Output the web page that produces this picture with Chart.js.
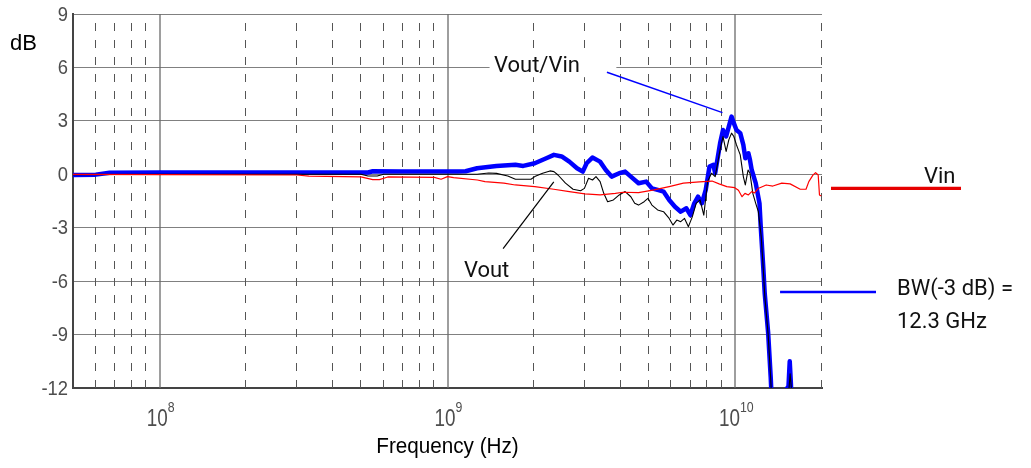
<!DOCTYPE html>
<html lang="en">
<head>
<meta charset="UTF-8">
<title>Vout/Vin frequency response</title>
<script src="https://cdn.jsdelivr.net/npm/chart.js@4.4.0/dist/chart.umd.min.js"></script>
<style>
  body { margin: 0; background: #fff; }
  #wrap { width: 1031px; height: 468px; }
</style>
</head>
<body>
<div id="wrap"><canvas id="resp" width="1031" height="468"></canvas></div>

<script>
// measured traces: frequency in GHz, level in dB
var vinGHz = [0.05, 0.1, 0.3, 0.33, 0.5, 0.55, 0.58, 0.62, 0.9, 0.95, 1.0, 1.05, 1.27, 1.35, 1.57, 1.72, 2.01, 2.34, 2.65, 3.0, 3.39, 3.83, 4.07, 4.61, 5.22, 5.89, 6.6, 7.5, 8.3, 8.78, 9.34, 9.95, 10.25, 10.55, 10.8, 11.1, 11.4, 11.65, 12.0, 12.8, 13.5, 14.5, 15.5, 16.8, 17.6, 18.0, 18.6, 19.0, 19.4, 19.6, 19.8];
var vinDb  = [0.0, -0.02, -0.04, -0.1, -0.15, -0.3, -0.3, -0.15, -0.17, -0.28, -0.13, -0.19, -0.32, -0.41, -0.5, -0.6, -0.69, -0.84, -0.97, -1.1, -1.16, -1.07, -1.01, -1.03, -0.88, -0.69, -0.5, -0.43, -0.38, -0.54, -0.69, -0.75, -0.9, -1.26, -1.07, -1.16, -0.97, -1.05, -0.8, -0.6, -0.66, -0.5, -0.54, -0.84, -0.84, -0.41, -0.05, 0.09, -0.04, -1.16, -1.2];

var voutGHz = [0.05, 0.1, 0.5, 0.53, 0.57, 0.6, 0.686, 1.267, 1.39, 1.48, 1.62, 1.722, 1.95, 2.01, 2.14, 2.27, 2.343, 2.42, 2.57, 2.73, 2.9, 2.99, 3.09, 3.19, 3.28, 3.39, 3.49, 3.6, 3.77, 3.95, 4.14, 4.335, 4.47, 4.61, 4.82, 4.97, 5.13, 5.37, 5.63, 5.89, 6.07, 6.26, 6.46, 6.66, 6.87, 7.09, 7.31, 7.54, 7.77, 8.01, 8.26, 8.51, 8.85, 9.06, 9.29, 9.49, 9.7, 9.88, 10.09, 10.4, 10.66, 10.83, 11.07, 11.24, 11.5, 11.77, 12.02, 12.3, 12.5, 12.65, 13.0, 13.27, 13.45, 15.25, 15.35, 15.5, 15.65, 15.75];
var voutDb  = [-0.02, 0.0, 0.0, -0.1, -0.1, 0.0, 0.0, 0.0, 0.07, 0.05, -0.1, -0.28, -0.28, -0.13, 0.06, 0.19, 0.15, -0.04, -0.5, -0.84, -0.92, -0.79, -0.22, -0.32, -0.13, -0.41, -1.07, -1.54, -1.44, -1.16, -0.97, -1.26, -1.63, -1.73, -1.54, -1.35, -1.73, -2.0, -2.1, -2.48, -2.85, -2.57, -2.66, -2.48, -2.94, -2.38, -1.63, -1.44, -2.29, -0.41, 0.06, -0.13, 1.37, 2.12, 1.28, 1.93, 2.31, 2.12, 1.65, 1.09, -0.13, -0.6, 0.24, 0.06, -1.07, -1.63, -2.1, -3.5, -5.3, -6.8, -9.0, -11.5, -13.5, -13.5, -12.1, -11.2, -12.0, -13.5];

var ratioGHz = [0.05, 0.06, 0.067, 0.1, 0.3, 0.53, 0.55, 0.686, 1.087, 1.156, 1.267, 1.479, 1.722, 1.833, 2.01, 2.204, 2.343, 2.492, 2.65, 2.818, 2.951, 3.043, 3.187, 3.388, 3.548, 3.716, 3.95, 4.14, 4.335, 4.61, 4.9, 5.13, 5.37, 5.63, 5.89, 6.17, 6.46, 6.76, 6.98, 7.2, 7.42, 7.65, 7.89, 8.13, 8.39, 8.51, 8.85, 9.06, 9.29, 9.49, 9.7, 9.88, 10.09, 10.4, 10.66, 10.83, 11.1, 11.24, 11.4, 11.77, 12.13, 12.25, 12.5, 12.65, 13.0, 13.27, 13.45, 14.8, 15.0, 15.3, 15.45, 15.6, 15.7];
var ratioDb  = [-0.04, -0.02, 0.09, 0.1, 0.1, 0.1, 0.17, 0.15, 0.15, 0.17, 0.34, 0.47, 0.53, 0.47, 0.62, 0.9, 1.09, 1.0, 0.71, 0.34, 0.15, 0.62, 0.94, 0.71, 0.24, -0.13, 0.06, 0.15, -0.13, -0.5, -0.41, -0.79, -0.88, -0.97, -1.44, -1.82, -2.1, -1.91, -2.29, -1.63, -1.26, -1.63, -0.88, 0.43, 0.53, 0.06, 1.74, 2.49, 2.12, 2.68, 3.24, 2.87, 2.49, 2.31, 1.65, 0.9, 1.18, 0.81, 0.24, -0.5, -1.63, -2.93, -5.2, -6.7, -8.9, -11.4, -13.5, -13.5, -12.1, -11.9, -10.5, -11.8, -13.5];

// axis ticks
var yTicks = [9, 6, 3, 0, -3, -6, -9, -12];
var majorHz = [1e8, 1e9, 1e10];
var majorExp = ['8', '9', '10'];
var minorHz = [6e7, 7e7, 8e7, 9e7, 2e8, 3e8, 4e8, 5e8, 6e8, 7e8, 8e8, 9e8, 2e9, 3e9, 4e9, 5e9, 6e9, 7e9, 8e9, 9e9, 2e10];

// callout leaders, [GHz, dB] pairs
var ratioLeader = [[3.58, 5.73], [9.02, 3.46]];
var voutLeader = [[1.56, -4.17], [2.34, -0.43]];

function pts(f, v) {
  return f.map(function (g, i) { return { x: g * 1e9, y: v[i] }; });
}

function squeezed(ctx, txt, x, y, sx, align) {
  ctx.save();
  ctx.translate(x, y);
  ctx.scale(sx, 1);
  ctx.textAlign = align;
  ctx.fillText(txt, 0, 0);
  ctx.restore();
}

function line(ctx, x1, y1, x2, y2, color, w) {
  ctx.beginPath();
  ctx.strokeStyle = color;
  ctx.lineWidth = w;
  ctx.moveTo(x1, y1);
  ctx.lineTo(x2, y2);
  ctx.stroke();
}

var frame = {
  id: 'frame',
  beforeDatasetsDraw: function (chart) {
    var ctx = chart.ctx, a = chart.chartArea, x = chart.scales.x, y = chart.scales.y;
    ctx.save();
    // dashed lines at 2..9 x 10^n
    ctx.setLineDash([8, 9]);
    minorHz.forEach(function (f) {
      var px = Math.round(x.getPixelForValue(f)) - 0.5;
      line(ctx, px, a.bottom, px, a.top, '#555', 1);
    });
    ctx.setLineDash([]);
    majorHz.forEach(function (f) {
      var px = Math.round(x.getPixelForValue(f));
      line(ctx, px, a.bottom, px, a.top, '#6a6a6a', 1.3);
    });
    // white backing of the Vout/Vin label
    ctx.fillStyle = '#fff';
    var bx = x.getPixelForValue(1.4e9);
    ctx.fillRect(bx, y.getPixelForValue(6.8), x.getPixelForValue(3.86e9) - bx, 24);
    ctx.restore();
  },
  afterDraw: function (chart) {
    var ctx = chart.ctx, a = chart.chartArea, x = chart.scales.x, y = chart.scales.y;
    ctx.save();
    ctx.textBaseline = 'alphabetic';

    // y tick labels
    ctx.fillStyle = '#4d4d4d';
    ctx.font = '20px "Liberation Sans"';
    ctx.textBaseline = 'middle';
    yTicks.forEach(function (v) {
      squeezed(ctx, String(v), a.left - 5, y.getPixelForValue(v) + 1, 0.92, 'right');
    });
    ctx.textBaseline = 'alphabetic';

    // x tick labels, 10 with a raised exponent
    majorHz.forEach(function (f, i) {
      var px = x.getPixelForValue(f);
      ctx.font = '23px "Liberation Sans"';
      var w1 = ctx.measureText('10').width * 0.82;
      ctx.font = '15px "Liberation Sans"';
      var w2 = ctx.measureText(majorExp[i]).width * 0.82;
      var left = px + 1 - (w1 + w2) / 2;
      ctx.font = '23px "Liberation Sans"';
      squeezed(ctx, '10', left, a.bottom + 38, 0.82, 'left');
      ctx.font = '15px "Liberation Sans"';
      squeezed(ctx, majorExp[i], left + w1, a.bottom + 24, 0.82, 'left');
    });

    // axis titles
    ctx.fillStyle = '#000';
    ctx.font = '22px "Liberation Sans"';
    squeezed(ctx, 'dB', 10, 50, 1, 'left');
    squeezed(ctx, 'Frequency (Hz)', (a.left + a.right) / 2, a.bottom + 65, 0.94, 'center');

    // callouts
    ctx.font = '22px Roboto';
    ctx.fillStyle = '#111';
    ctx.textAlign = 'left';
    ctx.fillText('Vout/Vin', x.getPixelForValue(1.45e9), y.getPixelForValue(5.73));
    ctx.fillText('Vout', x.getPixelForValue(1.14e9), y.getPixelForValue(-5.78));
    line(ctx, x.getPixelForValue(ratioLeader[0][0] * 1e9), y.getPixelForValue(ratioLeader[0][1]),
      x.getPixelForValue(ratioLeader[1][0] * 1e9), y.getPixelForValue(ratioLeader[1][1]), '#0000ff', 1.5);
    line(ctx, x.getPixelForValue(voutLeader[0][0] * 1e9), y.getPixelForValue(voutLeader[0][1]),
      x.getPixelForValue(voutLeader[1][0] * 1e9), y.getPixelForValue(voutLeader[1][1]), '#000', 1.2);

    // Vin key line and label
    var vinY = y.getPixelForValue(-0.79);
    line(ctx, a.right + 9, vinY, a.right + 139, vinY, '#e60000', 3.3);
    ctx.fillText('Vin', a.right + 102, vinY - 5);

    // bandwidth marker
    var bwY = Math.round(y.getPixelForValue(-6.63));
    line(ctx, x.getPixelForValue(14.3e9), bwY, a.right + 54, bwY, '#0000ff', 2.5);
    ctx.fillText('BW(-3 dB) =', a.right + 75, bwY + 3);
    ctx.fillText('12.3 GHz', a.right + 75, bwY + 36);
    ctx.restore();
  }
};

new Chart(document.getElementById('resp'), {
  type: 'line',
  data: {
    datasets: [
      { label: 'Vin', data: pts(vinGHz, vinDb), borderColor: '#ff0000', borderWidth: 1.2 },
      { label: 'Vout', data: pts(voutGHz, voutDb), borderColor: '#000000', borderWidth: 1.1 },
      { label: 'Vout/Vin', data: pts(ratioGHz, ratioDb), borderColor: '#0000ff', borderWidth: 4.5 }
    ]
  },
  options: {
    responsive: false,
    animation: false,
    devicePixelRatio: 1,
    elements: {
      point: { radius: 0 },
      line: { tension: 0, borderJoinStyle: 'round', borderCapStyle: 'round' }
    },
    layout: { padding: { top: 14, right: 209, bottom: 0, left: 0 } },
    plugins: { legend: { display: false }, tooltip: { enabled: false } },
    scales: {
      x: {
        type: 'logarithmic',
        min: 5e7,
        max: 2e10,
        grid: { display: false },
        ticks: { display: false },
        border: { color: '#444', width: 2 },
        afterFit: function (s) { s.height = 80; }
      },
      y: {
        min: -12,
        max: 9,
        ticks: { display: false, stepSize: 3 },
        grid: { color: '#808080', lineWidth: 1, drawTicks: false },
        border: { color: '#444', width: 2 },
        afterFit: function (s) { s.width = 73; }
      }
    }
  },
  plugins: [frame]
});
</script>
</body>
</html>
